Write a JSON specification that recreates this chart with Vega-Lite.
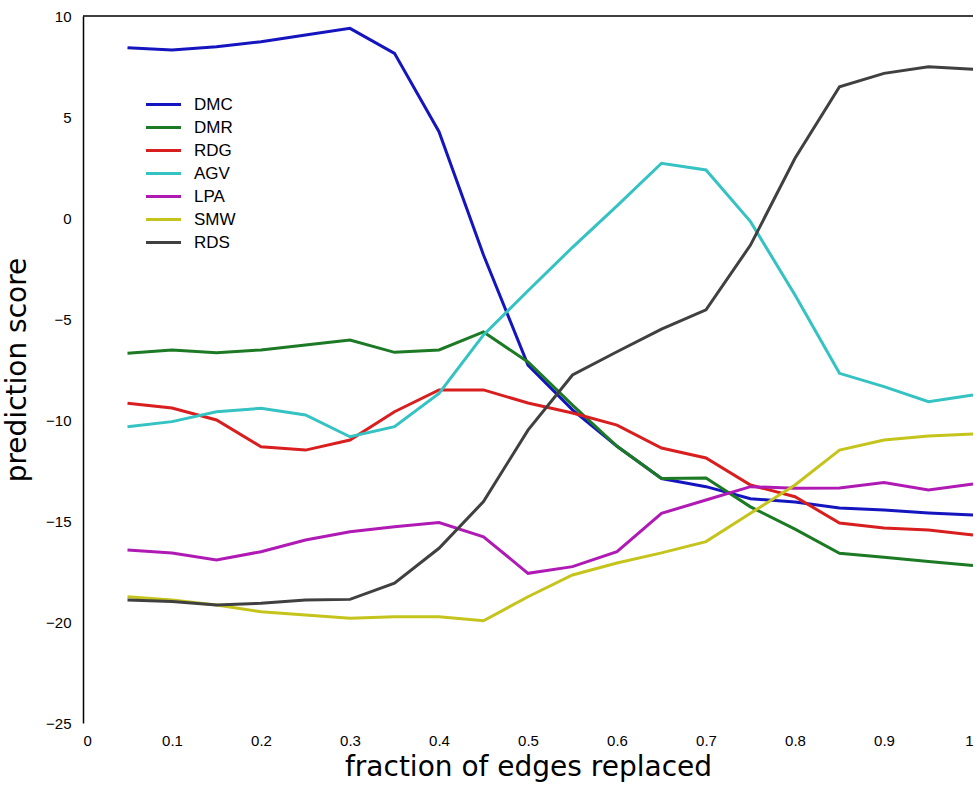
{
  "$schema": "https://vega.github.io/schema/vega-lite/v6.json",
  "width": 890,
  "height": 707,
  "autosize": {"type": "none"},
  "padding": {"left": 83, "top": 16, "right": 6, "bottom": 62},
  "background": "white",
  "config": {
    "view": {"stroke": null},
    "font": "Liberation Sans",
    "axis": {"grid": false, "labelColor": "black", "titleColor": "black", "domainColor": "black", "tickColor": "black", "labelFont": "Liberation Sans", "titleFont": "DejaVu Sans", "titleFontWeight": "normal"}
  },
  "datasets": {
    "scores": [
      {"x":0.05,"s":"DMC","v":8.43},{"x":0.10,"s":"DMC","v":8.32},{"x":0.15,"s":"DMC","v":8.48},{"x":0.20,"s":"DMC","v":8.73},{"x":0.25,"s":"DMC","v":9.06},{"x":0.30,"s":"DMC","v":9.39},{"x":0.35,"s":"DMC","v":8.15},{"x":0.40,"s":"DMC","v":4.27},{"x":0.45,"s":"DMC","v":-1.83},{"x":0.50,"s":"DMC","v":-7.28},{"x":0.55,"s":"DMC","v":-9.5},{"x":0.60,"s":"DMC","v":-11.3},{"x":0.65,"s":"DMC","v":-12.9},{"x":0.70,"s":"DMC","v":-13.3},{"x":0.75,"s":"DMC","v":-13.9},{"x":0.80,"s":"DMC","v":-14.06},{"x":0.85,"s":"DMC","v":-14.36},{"x":0.90,"s":"DMC","v":-14.46},{"x":0.95,"s":"DMC","v":-14.6},{"x":1.00,"s":"DMC","v":-14.7},
      {"x":0.05,"s":"DMR","v":-6.7},{"x":0.10,"s":"DMR","v":-6.53},{"x":0.15,"s":"DMR","v":-6.67},{"x":0.20,"s":"DMR","v":-6.53},{"x":0.25,"s":"DMR","v":-6.29},{"x":0.30,"s":"DMR","v":-6.04},{"x":0.35,"s":"DMR","v":-6.65},{"x":0.40,"s":"DMR","v":-6.53},{"x":0.45,"s":"DMR","v":-5.64},{"x":0.50,"s":"DMR","v":-7.13},{"x":0.55,"s":"DMR","v":-9.26},{"x":0.60,"s":"DMR","v":-11.3},{"x":0.65,"s":"DMR","v":-12.9},{"x":0.70,"s":"DMR","v":-12.87},{"x":0.75,"s":"DMR","v":-14.3},{"x":0.80,"s":"DMR","v":-15.4},{"x":0.85,"s":"DMR","v":-16.6},{"x":0.90,"s":"DMR","v":-16.8},{"x":0.95,"s":"DMR","v":-17.0},{"x":1.00,"s":"DMR","v":-17.2},
      {"x":0.05,"s":"RDG","v":-9.17},{"x":0.10,"s":"RDG","v":-9.41},{"x":0.15,"s":"RDG","v":-10.0},{"x":0.20,"s":"RDG","v":-11.32},{"x":0.25,"s":"RDG","v":-11.49},{"x":0.30,"s":"RDG","v":-10.99},{"x":0.35,"s":"RDG","v":-9.59},{"x":0.40,"s":"RDG","v":-8.51},{"x":0.45,"s":"RDG","v":-8.51},{"x":0.50,"s":"RDG","v":-9.16},{"x":0.55,"s":"RDG","v":-9.65},{"x":0.60,"s":"RDG","v":-10.25},{"x":0.65,"s":"RDG","v":-11.39},{"x":0.70,"s":"RDG","v":-11.88},{"x":0.75,"s":"RDG","v":-13.22},{"x":0.80,"s":"RDG","v":-13.8},{"x":0.85,"s":"RDG","v":-15.1},{"x":0.90,"s":"RDG","v":-15.35},{"x":0.95,"s":"RDG","v":-15.45},{"x":1.00,"s":"RDG","v":-15.69},
      {"x":0.05,"s":"AGV","v":-10.33},{"x":0.10,"s":"AGV","v":-10.08},{"x":0.15,"s":"AGV","v":-9.59},{"x":0.20,"s":"AGV","v":-9.42},{"x":0.25,"s":"AGV","v":-9.75},{"x":0.30,"s":"AGV","v":-10.83},{"x":0.35,"s":"AGV","v":-10.33},{"x":0.40,"s":"AGV","v":-8.68},{"x":0.45,"s":"AGV","v":-5.79},{"x":0.50,"s":"AGV","v":-3.6},{"x":0.55,"s":"AGV","v":-1.45},{"x":0.60,"s":"AGV","v":0.6},{"x":0.65,"s":"AGV","v":2.71},{"x":0.70,"s":"AGV","v":2.38},{"x":0.75,"s":"AGV","v":-0.18},{"x":0.80,"s":"AGV","v":-3.81},{"x":0.85,"s":"AGV","v":-7.69},{"x":0.90,"s":"AGV","v":-8.35},{"x":0.95,"s":"AGV","v":-9.09},{"x":1.00,"s":"AGV","v":-8.76},
      {"x":0.05,"s":"LPA","v":-16.44},{"x":0.10,"s":"LPA","v":-16.58},{"x":0.15,"s":"LPA","v":-16.93},{"x":0.20,"s":"LPA","v":-16.52},{"x":0.25,"s":"LPA","v":-15.94},{"x":0.30,"s":"LPA","v":-15.53},{"x":0.35,"s":"LPA","v":-15.28},{"x":0.40,"s":"LPA","v":-15.08},{"x":0.45,"s":"LPA","v":-15.78},{"x":0.50,"s":"LPA","v":-17.59},{"x":0.55,"s":"LPA","v":-17.26},{"x":0.60,"s":"LPA","v":-16.52},{"x":0.65,"s":"LPA","v":-14.62},{"x":0.70,"s":"LPA","v":-13.96},{"x":0.75,"s":"LPA","v":-13.3},{"x":0.80,"s":"LPA","v":-13.38},{"x":0.85,"s":"LPA","v":-13.37},{"x":0.90,"s":"LPA","v":-13.1},{"x":0.95,"s":"LPA","v":-13.47},{"x":1.00,"s":"LPA","v":-13.17},
      {"x":0.05,"s":"SMW","v":-18.75},{"x":0.10,"s":"SMW","v":-18.91},{"x":0.15,"s":"SMW","v":-19.16},{"x":0.20,"s":"SMW","v":-19.49},{"x":0.25,"s":"SMW","v":-19.65},{"x":0.30,"s":"SMW","v":-19.82},{"x":0.35,"s":"SMW","v":-19.74},{"x":0.40,"s":"SMW","v":-19.74},{"x":0.45,"s":"SMW","v":-19.94},{"x":0.50,"s":"SMW","v":-18.75},{"x":0.55,"s":"SMW","v":-17.67},{"x":0.60,"s":"SMW","v":-17.08},{"x":0.65,"s":"SMW","v":-16.58},{"x":0.70,"s":"SMW","v":-16.02},{"x":0.75,"s":"SMW","v":-14.62},{"x":0.80,"s":"SMW","v":-13.22},{"x":0.85,"s":"SMW","v":-11.49},{"x":0.90,"s":"SMW","v":-10.99},{"x":0.95,"s":"SMW","v":-10.79},{"x":1.00,"s":"SMW","v":-10.69},
      {"x":0.05,"s":"RDS","v":-18.91},{"x":0.10,"s":"RDS","v":-18.99},{"x":0.15,"s":"RDS","v":-19.16},{"x":0.20,"s":"RDS","v":-19.07},{"x":0.25,"s":"RDS","v":-18.91},{"x":0.30,"s":"RDS","v":-18.88},{"x":0.35,"s":"RDS","v":-18.08},{"x":0.40,"s":"RDS","v":-16.35},{"x":0.45,"s":"RDS","v":-14.04},{"x":0.50,"s":"RDS","v":-10.5},{"x":0.55,"s":"RDS","v":-7.77},{"x":0.60,"s":"RDS","v":-6.62},{"x":0.65,"s":"RDS","v":-5.5},{"x":0.70,"s":"RDS","v":-4.55},{"x":0.75,"s":"RDS","v":-1.34},{"x":0.80,"s":"RDS","v":2.96},{"x":0.85,"s":"RDS","v":6.5},{"x":0.90,"s":"RDS","v":7.16},{"x":0.95,"s":"RDS","v":7.49},{"x":1.00,"s":"RDS","v":7.36}
    ]
  },
  "layer": [
    {
      "data": {"name": "scores"},
      "mark": {"type": "line", "strokeWidth": 3},
      "encoding": {
        "x": {
          "field": "x", "type": "quantitative",
          "scale": {"domain": [0, 1], "nice": false, "zero": false},
          "axis": {"values": [0,0.1,0.2,0.3,0.4,0.5,0.6,0.7,0.8,0.9,1], "format": "~g", "domain": false, "ticks": false, "labelPadding": 10, "labelFontSize": 15, "title": "fraction of edges replaced", "titleFontSize": 28, "titlePadding": 5}
        },
        "y": {
          "field": "v", "type": "quantitative",
          "scale": {"domain": [-25, 10], "nice": false, "zero": false},
          "axis": {"values": [-25,-20,-15,-10,-5,0,5,10], "ticks": false, "labelPadding": 12, "labelFontSize": 15, "domainWidth": 1.5, "title": "prediction score", "titleFontSize": 28, "titlePadding": 14}
        },
        "color": {
          "field": "s", "type": "nominal",
          "scale": {"domain": ["DMC","DMR","RDG","AGV","LPA","SMW","RDS"], "range": ["#1515c0","#1c7a24","#d81e1e","#35c2c2","#b01ab4","#c4c41c","#404040"]},
          "legend": {"title": null, "orient": "none", "legendX": 69, "legendY": 77, "symbolType": "M-1.75,0H1.75", "symbolSize": 400, "symbolStrokeWidth": 3, "rowPadding": 3, "labelFontSize": 17, "labelColor": "black", "labelOffset": 19, "labelFont": "Liberation Sans"}
        }
      }
    },
    {
      "data": {"values": [{}]},
      "mark": {"type": "rule", "color": "black", "strokeWidth": 1.5},
      "encoding": {"y": {"datum": 10}}
    }
  ]
}
